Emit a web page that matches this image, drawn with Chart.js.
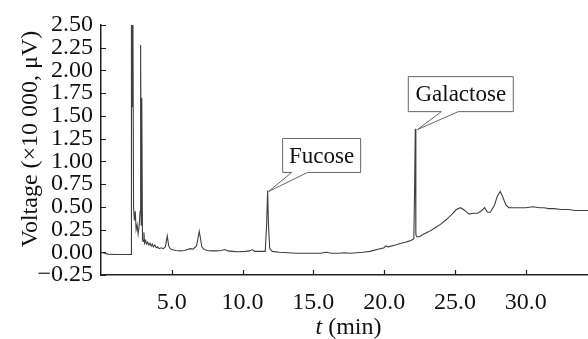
<!DOCTYPE html>
<html>
<head>
<meta charset="utf-8">
<script src="https://cdn.jsdelivr.net/npm/chart.js@4.4.1/dist/chart.umd.min.js"></script>
<style>
  html, body { margin: 0; padding: 0; background: #fff; }
</style>
</head>
<body>
<canvas id="chromChart" width="588" height="339"></canvas>
<script>
// retention time (min) and detector signal (x10 000 uV)
const times = [0.0, 0.5, 1.0, 1.5, 2.0, 2.12, 2.15, 2.2, 2.24, 2.3, 2.36, 2.42, 2.48, 2.55, 2.62, 2.7, 2.76, 2.8, 2.84, 2.88,
  2.93, 2.98, 3.03, 3.08, 3.15, 3.22, 3.3, 3.38, 3.46, 3.55, 3.62, 3.7, 3.8, 3.9, 4.0, 4.1, 4.25, 4.4, 4.55, 4.68,
  4.78, 4.88, 5.0, 5.3, 5.6, 5.9, 6.1, 6.3, 6.5, 6.75, 6.94, 7.02, 7.12, 7.3, 7.5, 7.8, 8.2, 8.5, 8.76, 8.95,
  9.3, 9.7, 10.2, 10.5, 10.7, 10.85, 11.3, 11.6, 11.7, 11.77, 11.83, 11.92, 12.1, 12.6, 13.2, 13.8, 14.5, 15.0, 15.5, 15.9,
  16.3, 16.8, 17.2, 17.6, 18.05, 18.5, 19.0, 19.5, 20.0, 20.1, 20.3, 20.8, 21.2, 21.5, 21.7, 21.9, 22.1, 22.16, 22.2, 22.24,
  22.3, 22.5, 22.8, 23.2, 23.6, 24.0, 24.4, 24.8, 25.1, 25.4, 25.7, 26.0, 26.3, 26.6, 26.9, 27.1, 27.3, 27.5, 27.8, 28.0,
  28.2, 28.4, 28.6, 28.8, 29.2, 29.6, 30.0, 30.5, 31.0, 31.3, 31.6, 32.0, 32.5, 33.0, 33.5, 34.0, 34.4];
const volts = [0.0, -0.02, -0.025, -0.025, -0.025, -0.025, 3.2, 1.6, 3.2, 0.5, 0.35, 0.45, 0.25, 0.3, 0.2, 0.3, 0.45, 2.28, 0.3, 1.7,
  0.14, 0.12, 0.22, 0.1, 0.13, 0.09, 0.11, 0.08, 0.1, 0.07, 0.09, 0.06, 0.08, 0.05, 0.06, 0.04, 0.05, 0.04, 0.06, 0.18,
  0.07, 0.04, 0.03, 0.02, 0.015, 0.02, 0.03, 0.04, 0.035, 0.07, 0.23, 0.16, 0.06, 0.03, 0.02, 0.015, 0.015, 0.02, 0.03, 0.015,
  0.01, 0.005, 0.01, 0.015, 0.03, 0.01, 0.01, 0.01, 0.3, 0.68, 0.3, 0.04, 0.01, 0.0, -0.005, -0.01, -0.01, -0.01, -0.01, 0.0,
  -0.01, -0.01, -0.005, -0.01, -0.005, 0.0, 0.01, 0.03, 0.05, 0.07, 0.06, 0.08, 0.1, 0.11, 0.12, 0.13, 0.15, 0.8, 1.36, 0.2,
  0.17, 0.17, 0.2, 0.23, 0.27, 0.31, 0.36, 0.42, 0.47, 0.49, 0.46, 0.42, 0.43, 0.43, 0.46, 0.49, 0.44, 0.44, 0.52, 0.62,
  0.67, 0.6, 0.52, 0.49, 0.49, 0.49, 0.49, 0.5, 0.49, 0.49, 0.48, 0.48, 0.47, 0.47, 0.46, 0.46, 0.46];

const xTicks = [5, 10, 15, 20, 25, 30];
const yTicks = [-0.25, 0, 0.25, 0.5, 0.75, 1, 1.25, 1.5, 1.75, 2, 2.25, 2.5];

const peakNames = ['Fucose', 'Galactose'];
const peakTimes = [11.77, 22.2];
const peakVolts = [0.68, 1.36];

const serif = "'Liberation Serif', 'Times New Roman', serif";

// callout box geometry relative to the peak tip (px)
const callouts = [
  { dx: 15, dy: -52, w: 78, h: 34, b0: 24, b1: 40, tx: 1, ty: 1 },
  { dx: -7, dy: -52, w: 105, h: 35, b0: 26, b1: 43, tx: 2, ty: 1 }
];

const extras = {
  id: 'extras',
  afterDatasetsDraw(chart) {
    const ctx = chart.ctx;
    const xs = chart.scales.x, ys = chart.scales.y;
    const area = chart.chartArea;
    ctx.save();

    // inward ticks
    ctx.strokeStyle = '#222';
    ctx.lineWidth = 1.2;
    ctx.beginPath();
    xTicks.forEach(v => {
      const px = Math.round(xs.getPixelForValue(v)) + 0.5;
      ctx.moveTo(px, area.bottom);
      ctx.lineTo(px, area.bottom - 5);
    });
    yTicks.forEach(v => {
      const py = Math.round(ys.getPixelForValue(v)) + 0.5;
      ctx.moveTo(area.left, py);
      ctx.lineTo(area.left + 5, py);
    });
    ctx.stroke();

    // peak callouts
    ctx.font = '23px ' + serif;
    ctx.textAlign = 'center';
    ctx.textBaseline = 'middle';
    peakNames.forEach((name, i) => {
      const c = callouts[i];
      const px = xs.getPixelForValue(peakTimes[i]);
      const py = ys.getPixelForValue(peakVolts[i]);
      const l = px + c.dx, t = py + c.dy, r = l + c.w, b = t + c.h;
      ctx.beginPath();
      ctx.moveTo(l, t);
      ctx.lineTo(r, t);
      ctx.lineTo(r, b);
      ctx.lineTo(px + c.b1, b);
      ctx.lineTo(px + c.tx, py + c.ty);
      ctx.lineTo(px + c.b0, b);
      ctx.lineTo(l, b);
      ctx.closePath();
      ctx.fillStyle = '#fff';
      ctx.fill();
      ctx.strokeStyle = '#666';
      ctx.lineWidth = 1;
      ctx.stroke();
      ctx.fillStyle = '#111';
      ctx.fillText(name, (l + r) / 2, (t + b) / 2 + 1);
    });

    // axis titles
    ctx.fillStyle = '#111';
    ctx.textBaseline = 'middle';
    const cx = (area.left + area.right) / 2 + 4;
    const cy = area.bottom + 53;
    ctx.font = 'italic 24px ' + serif;
    const wT = ctx.measureText('t').width;
    ctx.font = '24px ' + serif;
    const wRest = ctx.measureText(' (min)').width;
    const x0 = cx - (wT + wRest) / 2;
    ctx.textAlign = 'left';
    ctx.font = 'italic 24px ' + serif;
    ctx.fillText('t', x0, cy);
    ctx.font = '24px ' + serif;
    ctx.fillText(' (min)', x0 + wT, cy);

    ctx.translate(31, 139);
    ctx.rotate(-Math.PI / 2);
    ctx.textAlign = 'center';
    ctx.fillText('Voltage (\u00d710 000, \u03bcV)', 0, 0);
    ctx.restore();
  }
};

new Chart(document.getElementById('chromChart'), {
  type: 'line',
  data: {
    datasets: [{
      data: times.map((t, i) => ({ x: t, y: volts[i] })),
      borderColor: '#3f3f3f',
      borderWidth: 1.1,
      pointRadius: 0,
      tension: 0,
      fill: false
    }]
  },
  options: {
    responsive: false,
    animation: false,
    devicePixelRatio: 1,
    layout: { padding: { top: 25, right: 0, left: 0, bottom: 0 } },
    plugins: { legend: { display: false }, tooltip: { enabled: false } },
    scales: {
      x: {
        type: 'linear',
        min: 0,
        max: 34.4,
        afterBuildTicks: s => { s.ticks = xTicks.map(v => ({ value: v })); },
        afterFit: s => { s.height = 64; },
        grid: { display: false, drawTicks: false },
        border: { display: true, color: '#222', width: 1.5 },
        ticks: {
          autoSkip: false,
          maxRotation: 0,
          padding: 13,
          color: '#111',
          font: { family: serif, size: 24 },
          callback: v => v.toFixed(1)
        }
      },
      y: {
        min: -0.25,
        max: 2.5,
        afterBuildTicks: s => { s.ticks = yTicks.map(v => ({ value: v })); },
        afterFit: s => { s.width = 101; },
        grid: { display: false, drawTicks: false },
        border: { display: true, color: '#222', width: 1.5 },
        ticks: {
          autoSkip: false,
          padding: 8,
          color: '#111',
          font: { family: serif, size: 24 },
          callback: v => (v < 0 ? '\u2212' : '') + Math.abs(v).toFixed(2)
        }
      }
    }
  },
  plugins: [extras]
});
</script>
</body>
</html>
